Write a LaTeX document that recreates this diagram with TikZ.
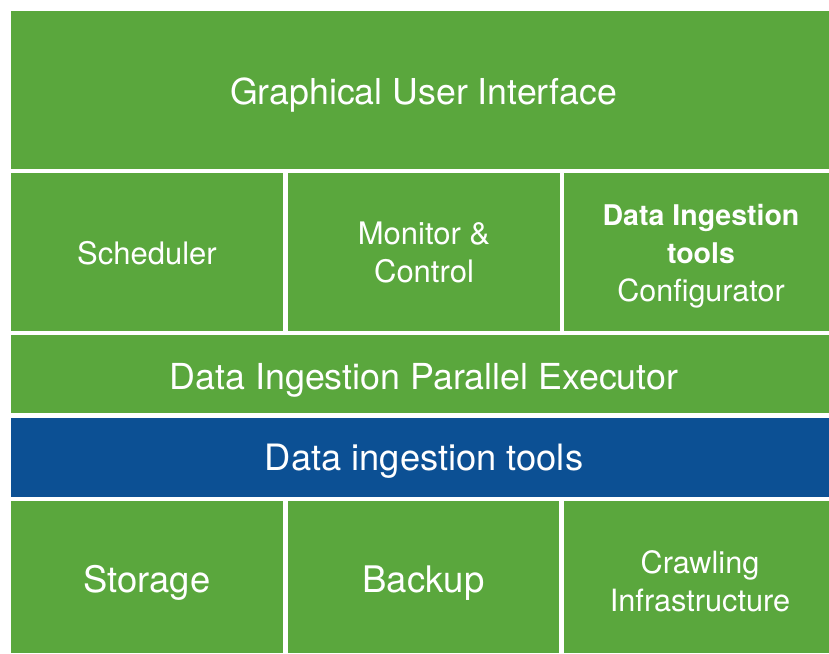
\documentclass[tikz,border=0pt]{standalone}
\usepackage{fontspec}
\setmainfont{TeX Gyre Heros}
\definecolor{boxgreen}{RGB}{90,167,61}
\definecolor{boxblue}{RGB}{12,80,148}
\tikzset{
  block/.style={draw=none, inner sep=0pt, outer sep=0pt, anchor=north west},
  gblock/.style={block, fill=boxgreen},
  bblock/.style={block, fill=boxblue},
  txt/.style={text=white, inner sep=0pt, anchor=base},
}
\newcommand{\fsz}[1]{\fontsize{#1}{#1}\selectfont}
\begin{document}
\begin{tikzpicture}[x=1pt, y=-1pt]
\useasboundingbox (0,0) rectangle (829,653);
\fill[white] (0,0) rectangle (829,653);
% boxes
\node[gblock, minimum width=818pt, minimum height=158pt] (gui) at (11,11) {};
\node[gblock, minimum width=272pt, minimum height=158pt] (sched) at (11,173) {};
\node[gblock, minimum width=272pt, minimum height=158pt] (mon) at (288,173) {};
\node[gblock, minimum width=265pt, minimum height=158pt] (conf) at (564,173) {};
\node[gblock, minimum width=818pt, minimum height=78pt] (exec) at (11,335) {};
\node[bblock, minimum width=818pt, minimum height=79pt] (tools) at (11,418) {};
\node[gblock, minimum width=272pt, minimum height=152pt] (stor) at (11,501) {};
\node[gblock, minimum width=271pt, minimum height=152pt] (back) at (288,501) {};
\node[gblock, minimum width=265pt, minimum height=152pt] (crawl) at (564,501) {};
% texts
\node[txt, font=\fsz{35.7}] (guit) at (423.5,104) {Graphical User Interface};
\node[txt, font=\fsz{31}] (schedt) at (147,264) {Scheduler};
\node[txt, font=\fsz{31}] (mont1) at (424,244) {Monitor \&};
\node[txt, font=\fsz{31}] (mont2) at (424,282) {Control};
\node[txt, font=\bfseries\fsz{28.5}] (conft1) at (701,225) {Data Ingestion};
\node[txt, font=\bfseries\fsz{28.5}] (conft2) at (701,263) {tools};
\node[txt, font=\fsz{30.5}] (conft3) at (701,301) {Configurator};
\node[txt, font=\fsz{35.8}] (exect) at (424,389.5) {Data Ingestion Parallel Executor};
\node[txt, font=\fsz{36.3}] (toolst) at (424,470) {Data ingestion tools};
\node[txt, font=\fsz{36.4}] (stort) at (147,592) {Storage};
\node[txt, font=\fsz{36.6}] (backt) at (423.5,592) {Backup};
\node[txt, font=\fsz{30.7}] (crawlt1) at (700,573) {Crawling};
\node[txt, font=\fsz{30.7}] (crawlt2) at (700,611) {Infrastructure};
\end{tikzpicture}
\end{document}
